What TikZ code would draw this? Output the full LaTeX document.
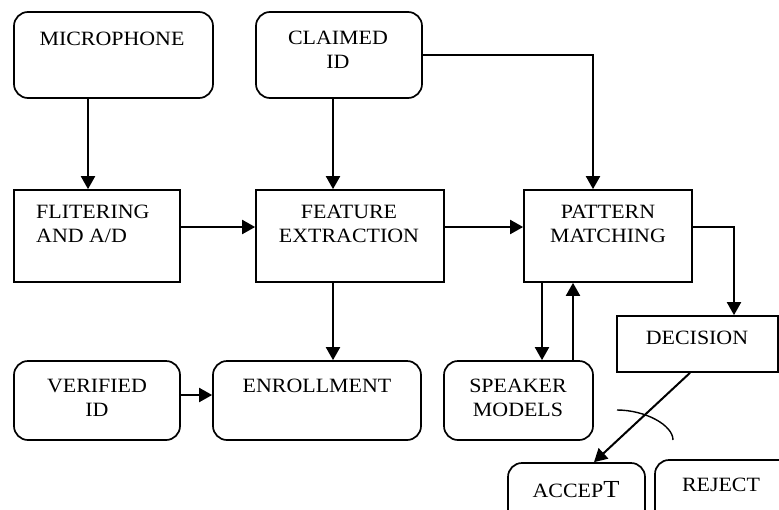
\documentclass[tikz,border=0pt]{standalone}
\usepackage{fontspec}
\setmainfont{Liberation Serif}[FakeStretch=1.08]
\usetikzlibrary{arrows.meta,calc}
\begin{document}
\begin{tikzpicture}[x=1pt,y=-1pt,
  box/.style={draw,line width=1.7pt,inner sep=0pt},
  rbox/.style={box,rounded corners=14pt},
  txt/.style={font=\fontsize{20.3}{24}\selectfont,align=center,inner sep=0pt},
  arr/.style={line width=2pt,-{Triangle[length=13pt,width=14pt]}}]
\useasboundingbox (0,0) rectangle (779,509);
\begin{scope}
\clip (0,0) rectangle (779,509);
\node[rbox,minimum width=199pt,minimum height=86pt] (mic) at (113.5,55) {};
\node[rbox,minimum width=166pt,minimum height=86pt] (claim) at (339,55) {};
\node[box,minimum width=166pt,minimum height=92pt] (filt) at (97,236) {};
\node[box,minimum width=188pt,minimum height=92pt] (feat) at (350,236) {};
\node[box,minimum width=168pt,minimum height=92pt] (patt) at (608,236) {};
\node[box,minimum width=161pt,minimum height=56pt] (dec) at (697.5,344) {};
\node[rbox,minimum width=149pt,minimum height=79pt] (spk) at (518.5,400.5) {};
\node[rbox,minimum width=208pt,minimum height=79pt] (enr) at (317,400.5) {};
\node[rbox,minimum width=166pt,minimum height=79pt] (ver) at (97,400.5) {};
\node[rbox,minimum width=137pt,minimum height=80pt] (acc) at (576.5,503) {};
\node[rbox,minimum width=150pt,minimum height=80pt] (rej) at (730,500) {};

\node[txt] (micT) at (112,39) {MICROPHONE};
\node[txt] (claimT) at (338,50) {CLAIMED\\ID};
\node[txt,align=left,anchor=west] (filtT) at (36,224) {FLITERING\\AND A/D};
\node[txt] (featT) at (349,224) {FEATURE\\EXTRACTION};
\node[txt] (pattT) at (608,224) {PATTERN\\MATCHING};
\node[txt] (decT) at (697,338) {DECISION};
\node[txt] (spkT) at (518,398) {SPEAKER\\MODELS};
\node[txt] (enrT) at (317,386) {ENROLLMENT};
\node[txt] (verT) at (97,398) {VERIFIED\\ID};
\node[txt] (accT) at (576,490) {ACCEP\fontsize{24.5}{24}\selectfont T};
\node[txt] (rejT) at (721,485) {REJECT};

\draw[arr] ([xshift=-25.5pt]mic.south) -- ([xshift=-25.5pt]mic.south |- filt.north);
\draw[arr] ([xshift=-6pt]claim.south) -- ([xshift=-6pt]claim.south |- feat.north);
\draw[arr] (claim.east) -| ([xshift=-15pt]patt.north);
\draw[arr] ([yshift=9pt]filt.east) -- ([yshift=9pt]filt.east -| feat.west);
\draw[arr] ([yshift=9pt]feat.east) -- ([yshift=9pt]feat.east -| patt.west);
\draw[arr] ([yshift=9pt]patt.east) -| ([xshift=36.5pt]dec.north);
\draw[arr] ([xshift=-66pt]patt.south) -- ([xshift=-66pt]patt.south |- spk.north);
\draw[arr] ([xshift=-35pt]patt.south |- spk.north) -- ([xshift=-35pt]patt.south);
\draw[arr] ([xshift=-17pt]feat.south) -- ([xshift=-17pt]feat.south |- enr.north);
\draw[arr] ([yshift=5.5pt]ver.east) -- ([yshift=5.5pt]ver.east -| enr.west);
\draw[arr] ([xshift=-7.5pt]dec.south) -- ([xshift=17.5pt]acc.north);
\coordinate (arcA) at (617,410);
\coordinate (arcB) at (673,440);
\draw[line width=1.4pt] (arcA) .. controls (645,410) and (673,425) .. (arcB);
\end{scope}
\end{tikzpicture}
\end{document}
